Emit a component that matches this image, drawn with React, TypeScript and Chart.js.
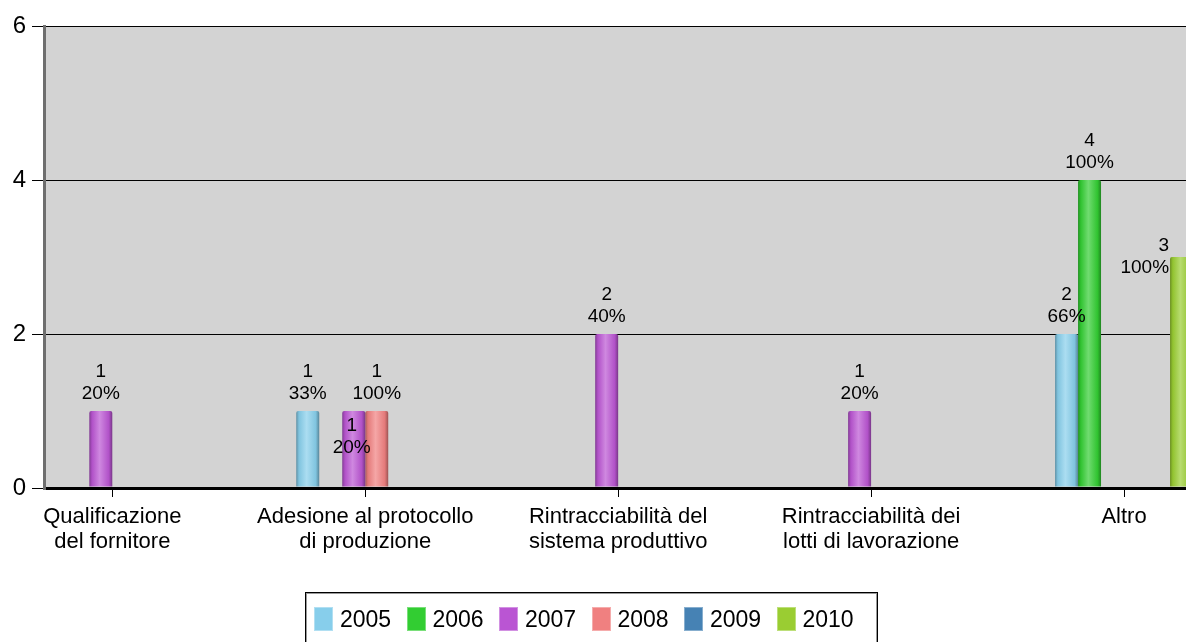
import React, { useEffect, useRef } from 'react';
import { Chart, registerables } from 'chart.js';

Chart.register(...registerables);

// ---------- data ----------
const categoryLines: string[][] = [
  ['Qualificazione', 'del fornitore'],
  ['Adesione al protocollo', 'di produzione'],
  ['Rintracciabilità del', 'sistema produttivo'],
  ['Rintracciabilità dei', 'lotti di lavorazione'],
  ['Altro'],
];
const years = ['2005', '2006', '2007', '2008', '2009', '2010'];
const v2005 = [0, 1, 0, 0, 2];
const v2006 = [0, 0, 0, 0, 4];
const v2007 = [1, 1, 2, 1, 0];
const v2008 = [0, 1, 0, 0, 0];
const v2009 = [0, 0, 0, 0, 0];
const v2010 = [0, 0, 0, 0, 3];
const seriesValues = [v2005, v2006, v2007, v2008, v2009, v2010];
const seriesColors = ['#87CEEB', '#32CD32', '#BA55D3', '#F08080', '#4682B4', '#9ACD32'];
const yTickValues = [0, 2, 4, 6];

// ---------- style helpers ----------
const FONT = "'Liberation Sans', Arial, sans-serif";

function hexToRgb(hex: string) {
  const n = parseInt(hex.slice(1), 16);
  return [(n >> 16) & 255, (n >> 8) & 255, n & 255];
}
function mix(hex: string, f: number) {
  const [r, g, b] = hexToRgb(hex);
  const t = f < 0 ? 0 : 255;
  const p = Math.abs(f);
  const m = (c: number) => Math.round(c + (t - c) * p);
  return `rgb(${m(r)},${m(g)},${m(b)})`;
}

// special label placements (avoid overlaps, like the original)
const labelPlacement: Record<string, { dy?: number; dx?: number; align?: CanvasTextAlign }> = {
  '2-1': { dy: 54, dx: -2 },
  '5-4': { dy: 28, align: 'right' },
};

const bgPlugin = {
  id: 'plotBg',
  beforeDraw(chart: any) {
    const { ctx, chartArea } = chart;
    ctx.save();
    ctx.fillStyle = '#d3d3d3';
    ctx.fillRect(chartArea.left, chartArea.top, chartArea.right - chartArea.left, chartArea.bottom - chartArea.top);
    ctx.restore();
  },
};

const cylinderPlugin = {
  id: 'cylinder',
  beforeDatasetDraw(chart: any, args: any) {
    const ctx = chart.ctx;
    const base = seriesColors[args.index];
    args.meta.data.forEach((el: any) => {
      const { x, width } = el.getProps(['x', 'width'], true);
      if (!isFinite(x) || !isFinite(width) || width <= 0) return;
      const g = ctx.createLinearGradient(x - width / 2, 0, x + width / 2, 0);
      g.addColorStop(0, mix(base, -0.3));
      g.addColorStop(0.12, mix(base, -0.05));
      g.addColorStop(0.45, mix(base, 0.3));
      g.addColorStop(0.85, mix(base, -0.05));
      g.addColorStop(1, mix(base, -0.35));
      el.options = Object.assign({}, el.options, { backgroundColor: g });
    });
  },
};

const valueLabelPlugin = {
  id: 'valueLabels',
  afterDatasetsDraw(chart: any) {
    const ctx = chart.ctx;
    ctx.save();
    ctx.font = `19px ${FONT}`;
    ctx.fillStyle = '#000';
    ctx.textBaseline = 'middle';
    seriesValues.forEach((vals, di) => {
      const total = vals.reduce((a, b) => a + b, 0);
      const meta = chart.getDatasetMeta(di);
      meta.data.forEach((el: any, j: number) => {
        const v = vals[j];
        if (!v) return;
        const pct = Math.floor((v * 100) / total) + '%';
        const { x, y, width } = el.getProps(['x', 'y', 'width'], true);
        const pl = labelPlacement[`${di}-${j}`] || {};
        let lx = x + (pl.dx || 0);
        ctx.textAlign = pl.align || 'center';
        if (pl.align === 'right') lx = x - width / 2 - 1;
        const dy = pl.dy || 0;
        ctx.fillText(String(v), lx, y - 39 + dy);
        ctx.fillText(pct, lx, y - 17 + dy);
      });
    });
    ctx.restore();
  },
};

export default function App() {
  const ref = useRef<HTMLCanvasElement | null>(null);

  useEffect(() => {
    if (!ref.current) return;
    const chart = new Chart(ref.current, {
      type: 'bar',
      data: {
        datasets: years.map((yr, i) => ({
          label: yr,
          data: seriesValues[i].map((v, j) => ({ x: j, y: v })),
          backgroundColor: seriesColors[i],
          borderWidth: 0,
          borderRadius: 2,
          borderSkipped: 'bottom',
          categoryPercentage: 0.5455,
          barPercentage: 1,
        })),
      },
      options: {
        animation: false,
        responsive: false,
        maintainAspectRatio: false,
        layout: { padding: { top: 26, left: 0, right: 0, bottom: 0 } },
        plugins: {
          legend: { display: false },
          tooltip: { enabled: false },
        },
        scales: {
          x: {
            type: 'linear',
            offset: false,
            min: -0.27,
            max: 4.245,
            bounds: 'data',
            afterBuildTicks: (s: any) => {
              s.ticks = categoryLines.map((_, i) => ({ value: i }));
            },
            afterFit: (s: any) => {
              s.height = 642 - 488;
            },
            ticks: {
              autoSkip: false,
              maxRotation: 0,
              color: '#000',
              padding: 8,
              font: { family: FONT, size: 22, lineHeight: 1.12 },
              callback: (v: any) => categoryLines[Math.round(Number(v))] ?? '',
            },
            grid: { offset: false, drawOnChartArea: false, color: '#000', tickLength: 9, lineWidth: 1 },
            border: { color: '#000', width: 3 },
          },
          y: {
            min: 0,
            max: 6,
            afterBuildTicks: (s: any) => {
              s.ticks = yTickValues.map((v) => ({ value: v }));
            },
            afterFit: (s: any) => {
              s.width = 44;
            },
            ticks: {
              color: '#000',
              padding: 6,
              font: { family: FONT, size: 24 },
            },
            grid: {
              color: '#000',
              lineWidth: (c: any) => (c.tick && c.tick.value === 0 ? 3 : 1),
              tickLength: 12,
              tickWidth: 1,
              tickColor: '#000',
            },
            border: { color: '#6e6e6e', width: 3 },
          },
        },
      },
      plugins: [bgPlugin, cylinderPlugin, valueLabelPlugin],
    } as any);
    return () => chart.destroy();
  }, []);

  return (
    <div style={{ position: 'absolute', left: 0, top: 0, width: 1186, height: 642, overflow: 'hidden', background: '#fff' }}>
      <canvas ref={ref} width={1186} height={642} style={{ display: 'block', width: 1186, height: 642 }} />
      <div
        style={{
          position: 'absolute',
          left: 305,
          top: 592,
          width: 573,
          height: 60,
          border: '1px solid #000',
          boxShadow: 'inset 0 0 0 1px #999',
          boxSizing: 'border-box',
          fontFamily: FONT,
          fontSize: 23,
          color: '#000',
        }}
      >
        {years.map((yr, i) => (
          <div
            key={yr}
            style={{ position: 'absolute', left: 8 + i * 92.5, top: 13, display: 'flex', alignItems: 'center', height: 26 }}
          >
            <span
              style={{
                display: 'inline-block',
                width: 19,
                height: 24,
                background: seriesColors[i],
                border: `1px solid ${mix(seriesColors[i], 0.35)}`,
                boxSizing: 'border-box',
                marginRight: 7,
              }}
            />
            <span style={{ lineHeight: '26px' }}>{yr}</span>
          </div>
        ))}
      </div>
    </div>
  );
}
